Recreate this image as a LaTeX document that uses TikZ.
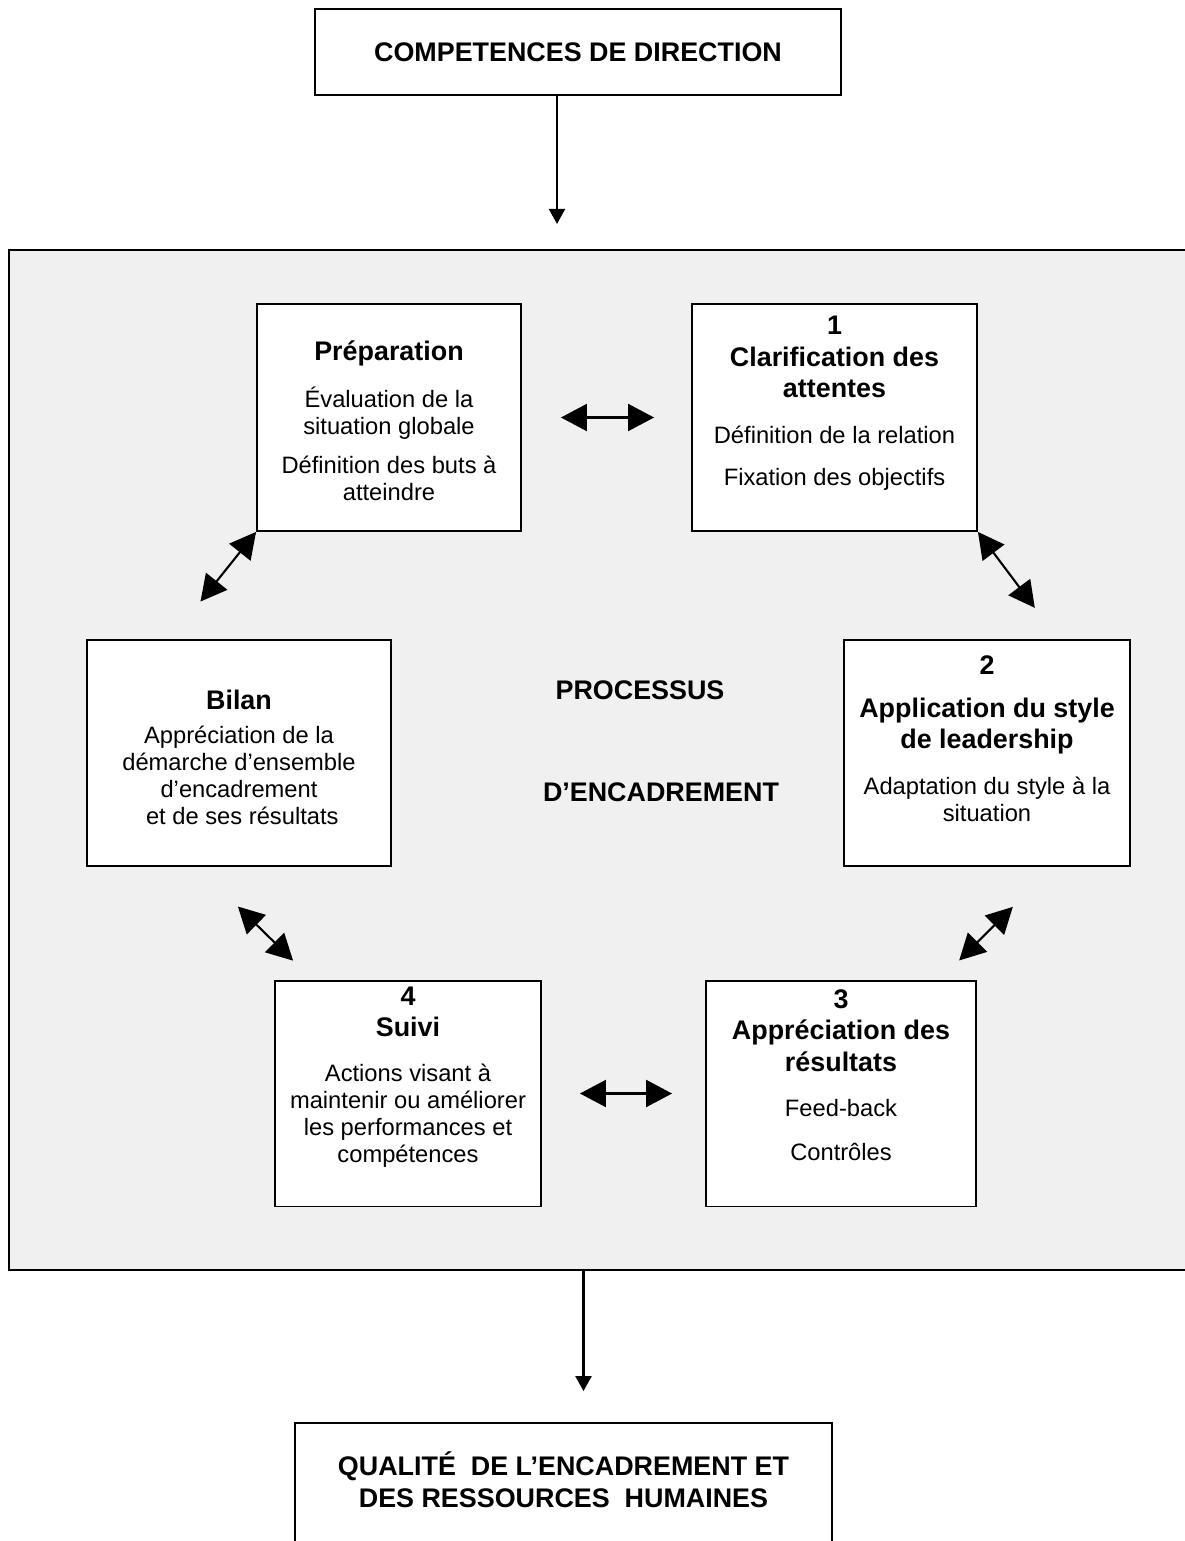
\documentclass[tikz,border=0pt]{standalone}
\usepackage{fontspec}
\setmainfont{Liberation Sans}
\usetikzlibrary{arrows.meta}
\definecolor{panelgray}{RGB}{240,240,240}

\begin{document}
\begin{tikzpicture}[x=0.02cm,y=-0.02cm]
  \tikzstyle{box}=[draw, rectangle, fill=white, line width=1.1pt, inner sep=0pt]
  \tikzstyle{ttl}=[font=\fontsize{15.3}{18}\selectfont\bfseries, align=center, inner sep=0pt]
  \tikzstyle{bdy}=[font=\fontsize{13.5}{15.4}\selectfont, align=center, inner sep=0pt]
  \tikzstyle{dbl}=[line width=1.2pt, {Triangle[length=0.52cm,width=0.54cm]}-{Triangle[length=0.52cm,width=0.54cm]}]
  \tikzstyle{arr}=[line width=1.3pt, -{Triangle[length=0.3cm,width=0.32cm]}]
  \useasboundingbox (0,0) rectangle (1184,1541);

  % outer blocks
  \node[box, ttl, minimum width=10.52cm, minimum height=1.72cm] (top) at (578,52) {COMPETENCES DE DIRECTION};
  \node[draw, fill=panelgray, line width=1.3pt, minimum width=24.82cm, minimum height=20.4cm] (panel) at (629.5,760) {};
  \node[box, minimum width=10.74cm, minimum height=2.8cm] (qual) at (563.5,1493) {};
  \node[ttl] (qual-t) at (563.5,1480) {QUALITÉ\ \ DE L’ENCADREMENT ET\\DES RESSOURCES\ \ HUMAINES};

  % the six steps
  \node[box, minimum width=5.28cm, minimum height=4.54cm] (prep) at (389,417.5) {};
  \node[box, minimum width=5.7cm, minimum height=4.54cm] (clar) at (834.5,417.5) {};
  \node[box, minimum width=6.08cm, minimum height=4.52cm] (bilan) at (239,753) {};
  \node[box, minimum width=5.72cm, minimum height=4.52cm] (appl) at (987,753) {};
  \node[box, minimum width=5.32cm, minimum height=4.52cm] (suivi) at (408,1093.5) {};
  \node[box, minimum width=5.4cm, minimum height=4.52cm] (appr) at (841,1093.5) {};

  \node[ttl] (prep-t) at (389,353) {Préparation};
  \node[bdy] (prep-a) at (389,413.5) {Évaluation de la\\situation globale};
  \node[bdy] (prep-b) at (389,478.5) {Définition des buts à\\atteindre};

  \node[ttl] (clar-t) at (834.5,357) {1\\Clarification des\\attentes};
  \node[bdy] (clar-a) at (834.5,435) {Définition de la relation};
  \node[bdy] (clar-b) at (834.5,479) {Fixation des objectifs};

  \node[ttl] (bilan-t) at (239,700) {Bilan};
  \node[bdy] (bilan-a) at (239,775.5) {Appréciation de la\\démarche d’ensemble\\d’encadrement\\\ et de ses résultats};

  \node[ttl] (appl-n) at (987,665) {2};
  \node[ttl] (appl-t) at (987,726) {Application du style\\de leadership};
  \node[bdy] (appl-a) at (987,799.5) {Adaptation du style à la\\situation};

  \node[ttl] (suivi-t) at (408,1012) {4\\Suivi};
  \node[bdy] (suivi-a) at (408,1116) {Actions visant à\\maintenir ou améliorer\\les performances et\\compétences};

  \node[ttl] (appr-t) at (841,1030.5) {3\\Appréciation des\\résultats};
  \node[bdy] (appr-a) at (841,1108) {Feed-back};
  \node[bdy] (appr-b) at (841,1152) {Contrôles};

  \node[ttl] (proc-a) at (640,690) {PROCESSUS};
  \node[ttl] (proc-b) at (661,792) {D’ENCADREMENT};

  % connectors
  \draw[arr, shorten >=0.5cm] ([xshift=-0.42cm]top.south) coordinate (in) -- (in |- panel.north);
  \draw[arr, shorten >=0.62cm] (panel.south -| qual-t.south) ++(0.4cm,0) coordinate (out) -- (out |- qual.north);
  \draw[dbl, shorten <=0.78cm, shorten >=0.74cm] (prep.east) -- (clar.west);
  \draw[dbl, shorten >=0.96cm] (prep.south west) -- (bilan.121);
  \draw[dbl, shorten >=0.78cm] (clar.south east) -- (appl.58.6);
  \draw[dbl, shorten <=1.13cm, shorten >=0.54cm] (bilan.250) -- (suivi.130);
  \draw[dbl, shorten <=1.13cm, shorten >=0.54cm] (appl.300.3) -- (appr.49.4);
  \draw[dbl, shorten <=0.76cm, shorten >=0.66cm] (suivi.east) -- (appr.west);
\end{tikzpicture}
\end{document}
